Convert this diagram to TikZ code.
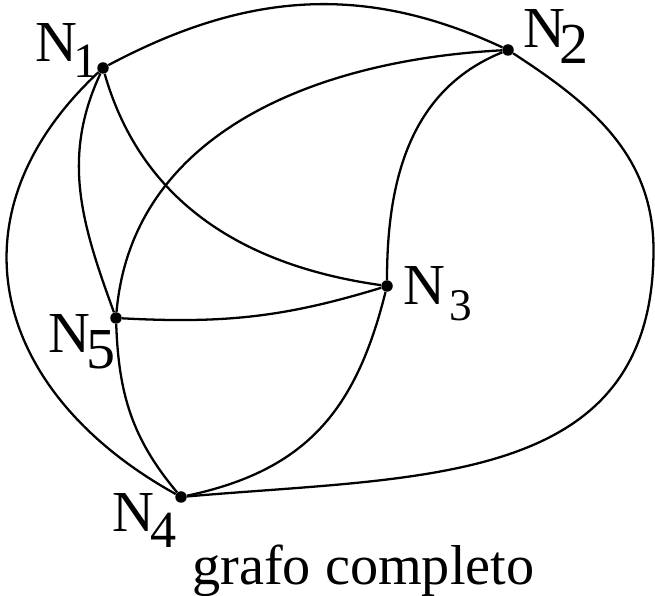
\documentclass[tikz,border=0pt]{standalone}
\usepackage{fontspec}
\setmainfont{Liberation Serif}
\usepackage{graphicx}
\usepackage{tikz}
\usetikzlibrary{positioning}
\newcommand{\nlab}[3][1]{N\kern#3\raisebox{-9pt}{\scalebox{#1}{#2}}}
\tikzset{
  vert/.style   ={circle,fill=black,inner sep=0pt,minimum size=2.3mm},
  link/.style   ={draw=black,line width=1.3pt},
  lbl/.style    ={font=\fontsize{33}{36}\selectfont,inner sep=0pt,anchor=base west},
  caption/.style={font=\fontsize{32}{36}\selectfont,inner sep=0pt,anchor=base west},
}
\begin{document}
\begin{tikzpicture}[x=1cm,y=1cm]
\useasboundingbox (0,0) rectangle (13.1,11.92);
% vertices
\node[vert] (n1) at (2.06,10.56) {};
\node[vert] (n2) at (10.16,10.92) {};
\node[vert] (n3) at (7.74,6.20) {};
\node[vert] (n4) at (3.62,1.98) {};
\node[vert] (n5) at (2.32,5.56) {};
% labels
\node[lbl] (l1) at (0.70,10.68) {\nlab[0.85]{1}{-0.06em}};
\node[lbl] (l2) at (10.46,10.96) {\nlab{2}{-0.1em}};
\node[lbl] (l3) at (8.06,5.82) {\nlab[0.78]{3}{0.08em}};
\node[lbl] (l4) at (2.24,1.28) {\nlab[0.9]{4}{-0.06em}};
\node[lbl] (l5) at (0.96,4.86) {\nlab{5}{-0.06em}};
% edges
\draw[link] (n1) to[out=28,in=155] (n2);
\draw[link] (n2) to[out=-33,in=90] (13.07,6.92) to[out=-90,in=5,looseness=1.15] (n4);
\draw[link] (n1) to[out=223,in=151,looseness=1.25] (n4);
\draw[link] (n1) to[out=245,in=110] (n5);
\draw[link] (n1) to[out=286,in=172] (n3);
\draw[link] (n2) to[out=202,in=90] (n3);
\draw[link] (n2) to[out=183,in=85] (n5);
\draw[link] (n5) to[out=-3,in=197] (n3);
\draw[link] (n3) to[out=256,in=12,looseness=1.1] (n4);
\draw[link] (n5) to[out=272,in=130] (n4);
% caption
\node[caption] (title) at (3.84,0.22) {grafo completo};
\end{tikzpicture}
\end{document}
